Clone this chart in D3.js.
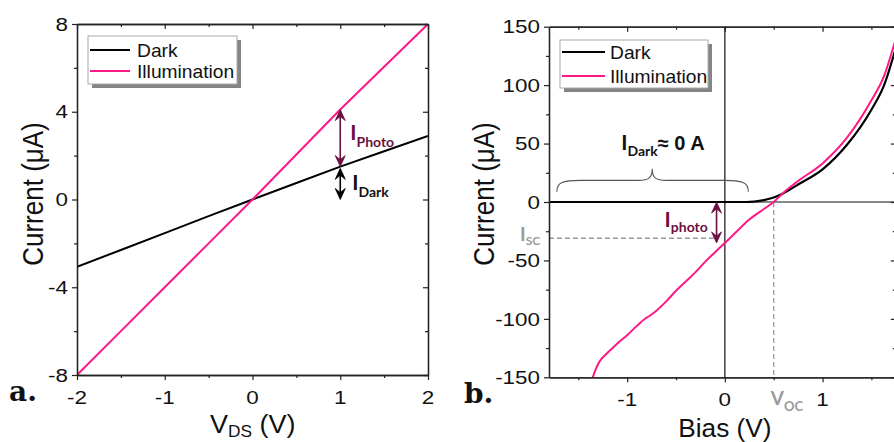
<!DOCTYPE html>
<html><head><meta charset="utf-8">
<script src="https://cdn.jsdelivr.net/npm/d3@7"></script>
<style>html,body{margin:0;padding:0;background:#fff;} svg{display:block} text{white-space:pre}</style>
</head><body>
<svg id="c" width="894" height="442"></svg>
<script>
// ---------- Panel a data ----------
const aVds   = [-2, -1.5, -1, -0.5, 0, 0.5, 1, 1.5, 2];
const aDark  = [-3.07, -2.3, -1.53, -0.76, 0, 0.75, 1.5, 2.2, 2.9];
const aIllum = [-8, -6, -4, -2, 0, 2.05, 4.1, 6.05, 8];
const aXTicks = [-2, -1, 0, 1, 2];
const aXMinor = [-1.5, -0.5, 0.5, 1.5];
const aYTicks = [-8, -4, 0, 4, 8];
const aYMinor = [-6, -2, 2, 6];

// ---------- Panel b data ----------
const bDarkV = [-1.8, 0.22, 0.3, 0.4, 0.5, 0.6, 0.75, 1.0, 1.25, 1.5, 1.63, 1.75];
const bDark  = [0, 0, 0.4, 1.6, 3.8, 7.5, 15, 28, 49, 79, 100, 132];
const bIllumV = [-1.36, -1.33, -1.3, -1.26, -1.2, -1.1, -1.0, -0.9, -0.81, -0.78, -0.73, -0.6, -0.5, -0.4, -0.3, -0.2, -0.1, 0, 0.1, 0.25, 0.4, 0.5, 0.6, 0.75, 1.0, 1.25, 1.5, 1.63, 1.75];
const bIllum  = [-152, -145, -139, -134, -129, -121, -114, -106, -99.5, -98, -95, -85, -76, -68, -60, -51, -43, -35, -27, -15, -6, 0, 8, 18, 33, 55, 87, 108, 140];
const bXTicks = [-1, 0, 1];
const bXMinor = [-1.5, -0.5, 0.5, 1.5];
const bYTicks = [-150, -100, -50, 0, 50, 100, 150];
const bYMinor = [-125, -75, -25, 25, 75, 125];
const bIsc = -31;      // short-circuit current (µA)
const bVoc = 0.5;      // open-circuit voltage (V)

const seriesNames = ["Dark", "Illumination"];
const seriesColors = ["#000000", "#ff1788"];
const annot = "#6b1040";
const grayTxt = "#9a9a9a";

const FS = "'Liberation Sans', Arial, sans-serif";
const FH = "Lato, 'Open Sans', sans-serif";
const FSERIF = "'DejaVu Serif', serif";

const svg = d3.select("#c");

function label(g, x, y, segs, o = {}) {
  const tr = `translate(${x},${y})` + ` scale(${o.sx || 1},1)` + (o.rot ? ` rotate(${o.rot})` : "");
  const t = g.append("text").attr("transform", tr)
    .attr("text-anchor", o.anchor || "start")
    .attr("font-family", o.ff || FS)
    .attr("font-weight", o.fw || "normal")
    .attr("font-size", o.size || 19)
    .attr("fill", o.fill || "#111");
  segs.forEach(s => {
    const ts = t.append("tspan").text(s.t);
    if (s.size) ts.attr("font-size", s.size);
    if (s.dy) ts.attr("dy", s.dy);
    if (s.ff) ts.attr("font-family", s.ff);
    if (s.fw) ts.attr("font-weight", s.fw);
  });
  return t;
}

function drawAxes(g, x, y, xMaj, xMin, yMaj, yMin) {
  const [x0, x1] = x.range();
  const [y0, y1] = y.range();
  const st = sel => {
    sel.select(".domain").attr("stroke", "#222").attr("stroke-width", 1.3);
    sel.selectAll(".tick line").attr("stroke", "#222").attr("stroke-width", 1.2);
    sel.selectAll("text").remove();
  };
  g.append("g").attr("transform", `translate(0,${y0})`).call(d3.axisBottom(x).tickValues(xMaj).tickSize(5).tickSizeOuter(0)).call(st);
  g.append("g").attr("transform", `translate(0,${y0})`).call(d3.axisBottom(x).tickValues(xMin).tickSize(3).tickSizeOuter(0)).call(st);
  g.append("g").attr("transform", `translate(0,${y1})`).call(d3.axisTop(x).tickValues(xMaj).tickSize(-5).tickSizeOuter(0)).call(st);
  g.append("g").attr("transform", `translate(0,${y1})`).call(d3.axisTop(x).tickValues(xMin).tickSize(-3).tickSizeOuter(0)).call(st);
  g.append("g").attr("transform", `translate(${x0},0)`).call(d3.axisLeft(y).tickValues(yMaj).tickSize(5).tickSizeOuter(0)).call(st);
  g.append("g").attr("transform", `translate(${x0},0)`).call(d3.axisLeft(y).tickValues(yMin).tickSize(3).tickSizeOuter(0)).call(st);
  g.append("g").attr("transform", `translate(${x1},0)`).call(d3.axisRight(y).tickValues(yMaj).tickSize(-5).tickSizeOuter(0)).call(st);
  g.append("g").attr("transform", `translate(${x1},0)`).call(d3.axisRight(y).tickValues(yMin).tickSize(-3).tickSizeOuter(0)).call(st);
  xMaj.forEach(v => label(g, x(v), y0 + 28.5, [{ t: String(v) }], { anchor: "middle", size: 19, sx: 1.18 }));
  yMaj.forEach(v => label(g, x0 - 9, y(v) + 6.7, [{ t: String(v) }], { anchor: "end", size: 19, sx: 1.18 }));
}

function legend(g, bx, by, w, h, rowY, lineX0, lineX1, textX) {
  g.append("rect").attr("x", bx + 4).attr("y", by + 4).attr("width", w).attr("height", h).attr("fill", "#858585");
  g.append("rect").attr("x", bx).attr("y", by).attr("width", w).attr("height", h).attr("fill", "#fff").attr("stroke", "#aaa").attr("stroke-width", 1);
  seriesNames.forEach((n, i) => {
    g.append("line").attr("x1", lineX0).attr("x2", lineX1).attr("y1", rowY[i]).attr("y2", rowY[i])
      .attr("stroke", seriesColors[i]).attr("stroke-width", 2);
    label(g, textX, rowY[i] + 6.5, [{ t: n }], { size: 17.5, sx: 1.1 });
  });
}

function arrowHead(g, x, yTip, dir, color) {
  g.append("path")
    .attr("d", `M${x},${yTip} L${x - 5},${yTip - dir * 11} L${x},${yTip - dir * 7} L${x + 5},${yTip - dir * 11} Z`)
    .attr("fill", color).attr("stroke", color).attr("stroke-width", 0.8).attr("stroke-linejoin", "round");
}
function dblArrow(g, x, yTop, yBot, color) {
  g.append("line").attr("x1", x).attr("x2", x).attr("y1", yTop + 6).attr("y2", yBot - 6)
    .attr("stroke", color).attr("stroke-width", 1.6);
  arrowHead(g, x, yTop, -1, color);
  arrowHead(g, x, yBot, 1, color);
}

// =================== Panel a ===================
const gA = svg.append("g");
const xA = d3.scaleLinear().domain([-2, 2]).range([77, 428]);
const yA = d3.scaleLinear().domain([-8, 8]).range([375, 24]);

svg.append("clipPath").attr("id", "clipA").append("rect")
  .attr("x", 77).attr("y", 24).attr("width", 351).attr("height", 351);

const lineA = d3.line().x((d, i) => xA(aVds[i])).y(d => yA(d));
gA.append("path").datum(aDark).attr("d", lineA).attr("fill", "none").attr("stroke", seriesColors[0]).attr("stroke-width", 2).attr("clip-path", "url(#clipA)");
gA.append("path").datum(aIllum).attr("d", lineA).attr("fill", "none").attr("stroke", seriesColors[1]).attr("stroke-width", 2).attr("clip-path", "url(#clipA)");

drawAxes(gA, xA, yA, aXTicks, aXMinor, aYTicks, aYMinor);
legend(gA, 88, 36, 149, 48, [50, 71], 90, 130, 137);

// annotations panel a
const axA = xA(1);
dblArrow(gA, axA, yA(4.1), yA(1.5), annot);
dblArrow(gA, axA, yA(1.42), yA(0), "#000");
label(gA, axA + 10, 140, [{ t: "I", size: 21 }, { t: "Photo", size: 14, dy: 7 }], { ff: FH, fw: "bold", fill: annot });
label(gA, axA + 12, 190, [{ t: "I", size: 21 }, { t: "Dark", size: 14, dy: 7 }], { ff: FH, fw: "bold", fill: "#111" });

// axis titles panel a
label(gA, 210, 433, [{ t: "V", size: 25 }, { t: "DS", size: 16, dy: 4 }, { t: " (V)", size: 25, dy: -4 }], { sx: 1.08 });
label(gA, 43, 194, [{ t: "Current (μA)" }], { size: 26, rot: -90, anchor: "middle", sx: 1.1 });
label(gA, 9, 401, [{ t: "a." }], { ff: FSERIF, fw: "bold", size: 28 });

// =================== Panel b ===================
const gB = svg.append("g");
const xB = d3.scaleLinear().domain([-1.8, 1.75]).range([549, 549 + 3.55 * 97.7]);
const yB = d3.scaleLinear().domain([-150, 150]).range([377.3, 26.7]);
const [bx0, bx1] = xB.range();
const [by0, by1] = yB.range();

svg.append("clipPath").attr("id", "clipB").append("rect")
  .attr("x", bx0).attr("y", by1).attr("width", bx1 - bx0).attr("height", by0 - by1);

// zero lines
gB.append("line").attr("x1", bx0).attr("x2", bx1).attr("y1", yB(0)).attr("y2", yB(0)).attr("stroke", "#111").attr("stroke-width", 1.2);
gB.append("line").attr("x1", xB(0)).attr("x2", xB(0)).attr("y1", by0).attr("y2", by1).attr("stroke", "#111").attr("stroke-width", 1.2);

// dashed guides
const arrowV = -0.085;
gB.append("line").attr("x1", bx0).attr("x2", xB(arrowV)).attr("y1", yB(bIsc)).attr("y2", yB(bIsc))
  .attr("stroke", "#9a9a9a").attr("stroke-width", 1.3).attr("stroke-dasharray", "5,3");
gB.append("line").attr("x1", xB(bVoc)).attr("x2", xB(bVoc)).attr("y1", yB(0)).attr("y2", by0)
  .attr("stroke", "#9a9a9a").attr("stroke-width", 1.3).attr("stroke-dasharray", "5,3");

const lineBD = d3.line().x((d, i) => xB(bDarkV[i])).y(d => yB(d)).curve(d3.curveMonotoneX);
const lineBI = d3.line().x((d, i) => xB(bIllumV[i])).y(d => yB(d)).curve(d3.curveMonotoneX);
gB.append("path").datum(bDark).attr("d", lineBD).attr("fill", "none").attr("stroke", seriesColors[0]).attr("stroke-width", 2.2).attr("clip-path", "url(#clipB)");
gB.append("path").datum(bIllum).attr("d", lineBI).attr("fill", "none").attr("stroke", seriesColors[1]).attr("stroke-width", 2).attr("clip-path", "url(#clipB)");

drawAxes(gB, xB, yB, bXTicks, bXMinor, bYTicks, bYMinor);
legend(gB, 560, 40, 148, 48, [52, 76], 562, 605, 610);

// brace
const bxL = xB(-1.72), bxR = xB(0.24), bxM = xB(-0.743);
const yEnd = yB(8.8), yH = yB(18.5), yTip = yB(28.5);
gB.append("path").attr("d",
  `M${bxL},${yEnd} C${bxL},${yH + 2} ${bxL + 6},${yH} ${bxL + 24},${yH} ` +
  `L${bxM - 14},${yH} C${bxM - 4},${yH} ${bxM},${yH - 2} ${bxM},${yTip} ` +
  `C${bxM},${yH - 2} ${bxM + 4},${yH} ${bxM + 14},${yH} ` +
  `L${bxR - 24},${yH} C${bxR - 6},${yH} ${bxR},${yH + 2} ${bxR},${yEnd}`)
  .attr("fill", "none").attr("stroke", "#555").attr("stroke-width", 1.1);

label(gB, bxM - 31, 150, [{ t: "I", size: 21, ff: FH }, { t: "Dark", size: 14, dy: 6, ff: FH }, { t: "≈ 0 A", size: 20, dy: -6, ff: FS }], { fw: "bold", fill: "#111" });

// photo arrow
dblArrow(gB, xB(arrowV), yB(0), yB(-35), annot);
label(gB, xB(arrowV) - 52, 227, [{ t: "I", size: 21 }, { t: "photo", size: 14, dy: 5 }], { ff: FH, fw: "bold", fill: annot });

// Isc / Voc labels
label(gB, bx0 - 29, yB(bIsc) + 3, [{ t: "I", size: 19 }, { t: "SC", size: 12, dy: 4 }], { ff: FH, fw: "bold", fill: grayTxt });
label(gB, xB(bVoc) - 3, 405, [{ t: "V", size: 19 }, { t: "OC", size: 13, dy: 6 }], { ff: FH, fw: "bold", fill: grayTxt });

// axis titles panel b
label(gB, xB(0), 437, [{ t: "Bias (V)" }], { size: 25, anchor: "middle", sx: 1.05 });
label(gB, 494, 194, [{ t: "Current (μA)" }], { size: 26, rot: -90, anchor: "middle", sx: 1.1 });
label(gB, 464, 403, [{ t: "b." }], { ff: FSERIF, fw: "bold", size: 28 });
</script>
</body></html>
